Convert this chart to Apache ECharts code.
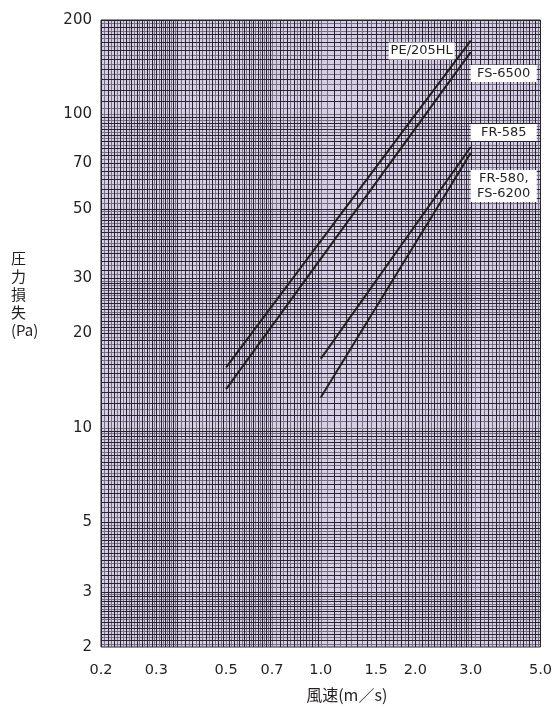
<!DOCTYPE html>
<html>
<head>
<meta charset="utf-8">
<script src="https://cdn.jsdelivr.net/npm/echarts@6/dist/echarts.min.js"></script>
<style>
  html, body { margin: 0; padding: 0; background: #ffffff; }
  #chart { width: 555px; height: 709px; }
</style>
</head>
<body>
<div id="chart"></div>
<script>
// Axis tick labels: air velocity (m/s) and pressure loss (Pa)
const velocityTicks = [0.2, 0.3, 0.5, 0.7, 1.0, 1.5, 2.0, 3.0, 5.0];
const pressureTicks = [2, 3, 5, 10, 20, 30, 50, 70, 100, 200];

// Filter models: each line runs between two (velocity, pressure loss) points
const models = ['PE/205HL', 'FS-6500', 'FR-585', 'FR-580,\nFS-6200'];
const velocities = [[0.5, 3.0], [0.5, 3.0], [1.0, 3.0], [1.0, 3.0]];
const pressureLoss = [[15.6, 172], [13.3, 158], [16.6, 78.7], [12.5, 75.3]];

// Graph-paper rulings as [from, to, step]; every other ruling is dark
const rulingsX = [[0.2, 0.35, 0.005], [0.35, 0.7, 0.01], [0.7, 1.0, 0.02], [1.0, 3.0, 0.05], [3.0, 5.0, 0.1]];
const rulingsY = [[2, 3, 0.05], [3, 5, 0.1], [5, 10, 0.2], [10, 30, 0.5], [30, 50, 1], [50, 100, 2], [100, 200, 5]];

const X_MIN = 0.2, X_MAX = 5.0, Y_MIN = 2, Y_MAX = 200;
const PAPER = '#d5cee4';
const DARK = '#28232e';
const LIGHT = '#767082';
const INK = '#231f20';
const NUM_FONT = '"DejaVu Sans", "Noto Sans", sans-serif';
const CJK_FONT = '"Noto Sans CJK JP", "Noto Sans", sans-serif';

// Label box placement (box centre-top) relative to each line's upper end
const labelOffsets = [[-49, 2], [33, 13], [33, -23], [33, 17]];

function buildRulings(segments, vertical) {
  const out = [];
  const seen = new Set();
  segments.forEach(([from, to, step]) => {
    const n = Math.round((to - from) / step);
    for (let i = 0; i <= n; i++) {
      const v = +(from + i * step).toFixed(4);
      if (seen.has(v)) continue;
      seen.add(v);
      const dark = i % 2 === 0 ? 1 : 0;
      out.push(vertical ? [v, Y_MIN, 0, dark] : [X_MIN, v, 1, dark]);
    }
  });
  return out;
}

const rulings = buildRulings(rulingsX, true)
  .concat(buildRulings(rulingsY, false))
  .sort((a, b) => a[3] - b[3]);

function renderRuling(params, api) {
  const horizontal = api.value(2) === 1;
  const dark = api.value(3) === 1;
  let shape;
  if (!horizontal) {
    const v = api.value(0);
    const a = api.coord([v, Y_MIN]);
    const b = api.coord([v, Y_MAX]);
    const x = Math.round(a[0]) + 0.5;
    shape = { x1: x, y1: a[1], x2: x, y2: b[1] };
  } else {
    const v = api.value(1);
    const a = api.coord([X_MIN, v]);
    const b = api.coord([X_MAX, v]);
    const y = Math.round(a[1]) + 0.5;
    shape = { x1: a[0], y1: y, x2: b[0], y2: y };
  }
  return {
    type: 'line',
    shape: shape,
    style: { stroke: dark ? DARK : LIGHT, lineWidth: 1 },
    silent: true
  };
}

const lineSeries = models.map((name, k) => ({
  name: name,
  type: 'line',
  symbol: 'circle',
  symbolSize: 0,
  showSymbol: true,
  z: 5,
  lineStyle: { color: INK, width: 2 },
  itemStyle: { color: INK },
  data: velocities[k].map((v, j) => {
    const item = { value: [v, pressureLoss[k][j]] };
    if (j === velocities[k].length - 1) {
      item.label = {
        show: true,
        position: labelOffsets[k],
        formatter: name.split('\n').map(s => '{t|' + s + '}').join('\n'),
        backgroundColor: '#ffffff',
        padding: [1, 1.5],
        align: 'center',
        verticalAlign: 'top',
        rich: {
          t: {
            width: 63,
            align: 'center',
            color: INK,
            fontFamily: NUM_FONT,
            fontSize: 13,
            lineHeight: 15
          }
        }
      };
    } else {
      item.label = { show: false };
    }
    return item;
  })
}));

const chart = echarts.init(document.getElementById('chart'), null, { renderer: 'canvas' });

chart.setOption({
  animation: false,
  backgroundColor: '#ffffff',
  grid: {
    left: 101, right: 8, top: 20, bottom: 62,
    show: true,
    backgroundColor: PAPER,
    borderColor: DARK,
    borderWidth: 1
  },
  graphic: [{
    type: 'text',
    left: 11,
    top: 249,
    silent: true,
    style: {
      text: '圧\n力\n損\n失\n(Pa)',
      fill: INK,
      font: '15px ' + CJK_FONT,
      lineHeight: 18,
      align: 'center'
    }
  }],
  xAxis: {
    type: 'log',
    logBase: 10,
    min: X_MIN,
    max: X_MAX,
    name: '風速(m／s)',
    nameLocation: 'middle',
    nameGap: 40,
    nameTextStyle: { color: INK, fontFamily: CJK_FONT, fontSize: 16, padding: [0, 0, 0, 52] },
    axisLine: { show: false },
    axisTick: { show: false },
    splitLine: { show: false },
    minorSplitLine: { show: false },
    axisLabel: {
      customValues: velocityTicks,
      formatter: v => Number(v).toFixed(1),
      color: INK,
      fontFamily: NUM_FONT,
      fontSize: 14.5,
      margin: 16,
      showMinLabel: true,
      showMaxLabel: true,
      hideOverlap: false
    }
  },
  yAxis: {
    type: 'log',
    logBase: 10,
    min: Y_MIN,
    max: Y_MAX,
    axisLine: { show: false },
    axisTick: { show: false },
    splitLine: { show: false },
    minorSplitLine: { show: false },
    axisLabel: {
      customValues: pressureTicks,
      formatter: v => String(Math.round(v)),
      color: INK,
      fontFamily: NUM_FONT,
      fontSize: 15,
      margin: 9,
      showMinLabel: true,
      showMaxLabel: true,
      hideOverlap: false
    }
  },
  series: [{
    name: 'rulings',
    type: 'custom',
    coordinateSystem: 'cartesian2d',
    renderItem: renderRuling,
    encode: { x: 0, y: 1 },
    clip: true,
    silent: true,
    z: 1,
    data: rulings
  }].concat(lineSeries)
});
</script>
</body>
</html>
